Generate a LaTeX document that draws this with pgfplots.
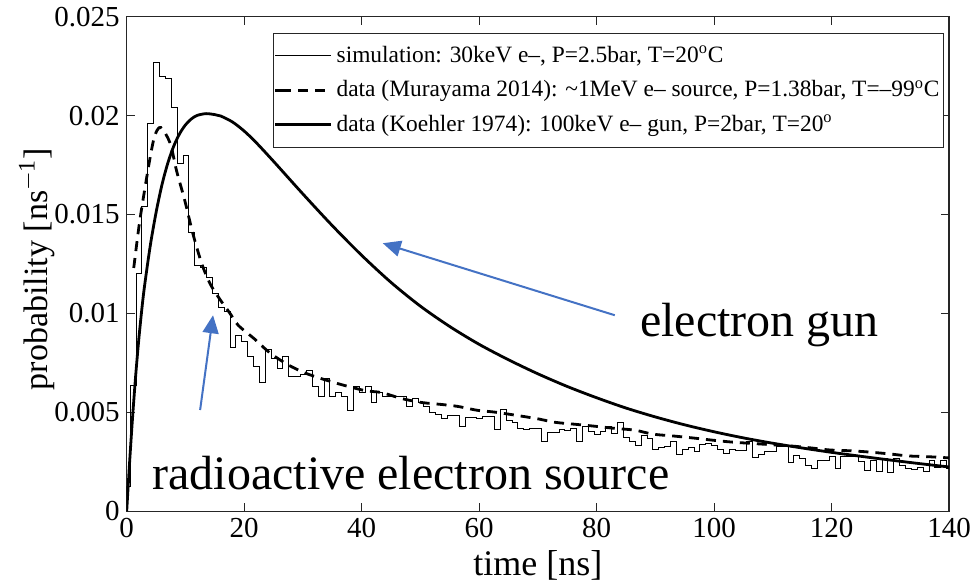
\documentclass[border=0pt]{standalone}
\usepackage{pgfplots}
\pgfplotsset{compat=1.18}
\usepackage{fontspec}
\setmainfont{Liberation Serif}
\usetikzlibrary{arrows.meta}
\definecolor{arrowblue}{HTML}{4472C4}

\begin{document}
\begin{tikzpicture}
\begin{axis}[
  scale only axis,
  width=411.15pt, height=247.3pt,
  xmin=0, xmax=140, ymin=0, ymax=0.025,
  xtick={0,20,40,60,80,100,120,140},
  ytick={0,0.005,0.01,0.015,0.02,0.025},
  yticklabels={0,0.005,0.01,0.015,0.02,0.025},
  scaled y ticks=false,
  tick align=inside,
  major tick length=4pt,
  axis line style={black!85, line width=0.6pt},
  tick style={black!85, line width=0.5pt},
  /pgf/number format/assume math mode=true,
  every tick label/.append style={font=\fontsize{14.5}{16}\selectfont},
  xlabel={time [ns]},
  ylabel={probability [ns\textsuperscript{$-$1}]},
  xlabel style={at={(axis description cs:0.5,0)}, anchor=base, yshift=-32pt, font=\fontsize{18}{21}\selectfont},
  ylabel style={at={(axis description cs:0,0.49)}, anchor=center, yshift=45pt, font=\fontsize{17}{20}\selectfont},
  legend style={at={(0.994,0.968)}, anchor=north east, draw=black!85, line width=0.5pt,
    font=\fontsize{11.7}{14}\selectfont, row sep=3.5pt, inner xsep=0pt, inner ysep=4.5pt,
    nodes={inner xsep=2pt}, cells={anchor=west}},
  legend image code/.code={\path (-3pt,0pt) -- (0pt,0pt); \draw[#1] (0pt,0pt) -- (25pt,0pt);},
]
\addplot[const plot mark left, black, line width=0.5pt] coordinates {
(0,0) (0,0.00124) (0.6,0.00638) (1.6,0.01202) (2.6,0.0154) (3.6,0.0196) (4.6,0.0227)
(5.6,0.0220) (6.6,0.0219) (7.6,0.0204) (8.6,0.0176) (9.6,0.0180) (10.6,0.0141)
(11.6,0.0124) (12.6,0.0123) (13.6,0.0118) (14.6,0.0110) (15.6,0.0103) (16.6,0.0101)
(17.6,0.0083) (18.6,0.0089) (19.6,0.0086) (20.6,0.0078) (21.6,0.0073) (22.6,0.0065)
(23.6,0.0082) (24.6,0.0077) (25.6,0.0072) (26.6,0.0078) (27.6,0.0068) (28.6,0.0068)
(29.6,0.0069) (30.6,0.0071) (31.6,0.0063) (32.6,0.0058) (33.6,0.0067) (34.6,0.0058)
(35.6,0.0060) (36.6,0.0058) (37.6,0.0051) (38.6,0.0063) (39.6,0.0060) (40.6,0.0063)
(41.6,0.0055) (42.6,0.0060) (43.6,0.0058) (44.6,0.0058) (45.6,0.0058) (46.6,0.0058)
(47.6,0.0053) (48.6,0.0057) (49.6,0.0055) (50.6,0.0053) (51.6,0.0050) (52.6,0.0049)
(53.6,0.0047) (54.6,0.00486) (55.6,0.00486) (56.6,0.00427) (57.6,0.00474) (58.6,0.00474)
(59.6,0.0047) (60.6,0.0048) (61.6,0.0048) (62.6,0.00414) (63.6,0.00515) (64.6,0.00458)
(65.6,0.0045) (66.6,0.00419) (67.6,0.00411) (68.6,0.00419) (69.6,0.00419) (70.6,0.00352)
(71.6,0.00397) (72.6,0.00397) (73.6,0.00411) (74.6,0.00407) (75.6,0.00419) (76.6,0.00352)
(77.6,0.00427) (78.6,0.00402) (79.6,0.0039) (80.6,0.00402) (81.6,0.00427) (82.6,0.00394)
(83.6,0.00448) (84.6,0.00374) (85.6,0.00352) (86.6,0.00335) (87.6,0.00385) (88.6,0.00369)
(89.6,0.00313) (90.6,0.00323) (91.6,0.0033) (92.6,0.00352) (93.6,0.00289) (94.6,0.0031)
(95.6,0.00323) (96.6,0.00301) (97.6,0.0034) (98.6,0.00343) (99.6,0.00335) (100.6,0.0031)
(101.6,0.00293) (102.6,0.0031) (103.6,0.00306) (104.6,0.00306) (105.6,0.00352) (106.6,0.00273)
(107.6,0.00289) (108.6,0.00301) (109.6,0.00301) (110.6,0.00326) (111.6,0.00326) (112.6,0.00246)
(113.6,0.00284) (114.6,0.00268) (115.6,0.00234) (116.6,0.00217) (117.6,0.00259) (118.6,0.00259)
(119.6,0.00279) (120.6,0.00217) (121.6,0.00279) (122.6,0.00279) (123.6,0.00279) (124.6,0.00251)
(125.6,0.00205) (126.6,0.00259) (127.6,0.002) (128.6,0.00268) (129.6,0.00195) (130.6,0.00268)
(131.6,0.00229) (132.6,0.00217) (133.6,0.00212) (134.6,0.00222) (135.6,0.002) (136.6,0.00256)
(137.6,0.00222) (138.6,0.00256) (139.6,0.00217) (140,0.00217)
};
\addlegendentry{simulation: 30keV e--, P=2.5bar, T=20\textsuperscript{o}C}
\addplot[black, line width=1.4pt, dash pattern=on 5pt off 3.5pt, smooth] coordinates {
(1.2,0.0123) (2.0,0.0142) (2.7,0.0156) (4.0,0.0179) (4.8,0.0190) (5.8,0.0194) (7.4,0.0186)
(8.5,0.0172) (9.9,0.0157) (11.3,0.0140) (12.8,0.0125) (14.2,0.0115) (15.9,0.0107)
(17.6,0.0100) (19.0,0.0094) (21.8,0.0087) (24.4,0.0080) (27.5,0.0074) (30.3,0.0070)
(33.2,0.0067) (36.6,0.0064) (40.6,0.0061) (43.4,0.0060) (46.8,0.0057) (50.2,0.0055)
(53.6,0.0054) (56.4,0.0053) (59.8,0.0051) (63.0,0.0050) (69.5,0.0047) (72.9,0.0045)
(76.3,0.0044) (79.7,0.0043) (82.8,0.0042) (86.5,0.0041) (89.6,0.0039) (93.3,0.0038)
(96.6,0.0037) (99.6,0.0036) (103,0.0035) (108,0.0034) (113.2,0.0033) (116.6,0.0032)
(119.7,0.0031) (123.1,0.00306) (126.2,0.0030) (129.9,0.0029) (133.0,0.0028)
(136.4,0.00276) (140,0.0027)
};
\addlegendentry{data (Murayama 2014): \textasciitilde1MeV e-- source, P=1.38bar, T=--99\textsuperscript{o}C}
\addplot[black, line width=1.4pt, smooth] coordinates {
(0,0) (0.5,0.0025) (1,0.00475) (1.5,0.00675) (2,0.0085) (2.5,0.0100) (3,0.0113) (4,0.0134)
(5,0.0151) (6,0.0165) (7,0.0176) (8,0.01845) (9,0.01908) (10,0.01953) (11,0.01983)
(12,0.02001) (13.5,0.0201) (15,0.02005) (16,0.01998) (18,0.01968) (20,0.01922) (22,0.01865)
(25,0.01769) (30,0.01604) (35,0.01444) (40,0.01294) (45,0.01157) (50,0.01037) (55,0.00934)
(60,0.00844) (65,0.00766) (70,0.00695) (75,0.00631) (80,0.00574) (85,0.00522) (90,0.00477)
(95,0.00437) (100,0.00402) (105,0.00371) (110,0.00344) (115,0.00320) (120,0.00298)
(125,0.00278) (130,0.00259) (135,0.00241) (140,0.00224)
};
\addlegendentry{data (Koehler 1974): 100keV e-- gun, P=2bar, T=20\textsuperscript{o}}
\draw[arrowblue, line width=1pt, -{Triangle[length=9pt,width=8pt]}] (axis cs:83.1,0.00991) -- (axis cs:43.6,0.01355);
\draw[arrowblue, line width=1pt, -{Triangle[length=9pt,width=8pt]}] (axis cs:12.5,0.00512) -- (axis cs:14.7,0.00991);
\node[anchor=base west, inner sep=0pt, font=\fontsize{24}{28}\selectfont] at (axis cs:87.37,0.00885) {electron gun};
\node[anchor=base west, inner sep=0pt, font=\fontsize{24}{28}\selectfont] at (axis cs:4.31,0.00108) {radioactive electron source};
\end{axis}
\pgfresetboundingbox
\path (-63.35pt,-35.85pt) rectangle (423.15pt,255.65pt);
\end{tikzpicture}
\end{document}
